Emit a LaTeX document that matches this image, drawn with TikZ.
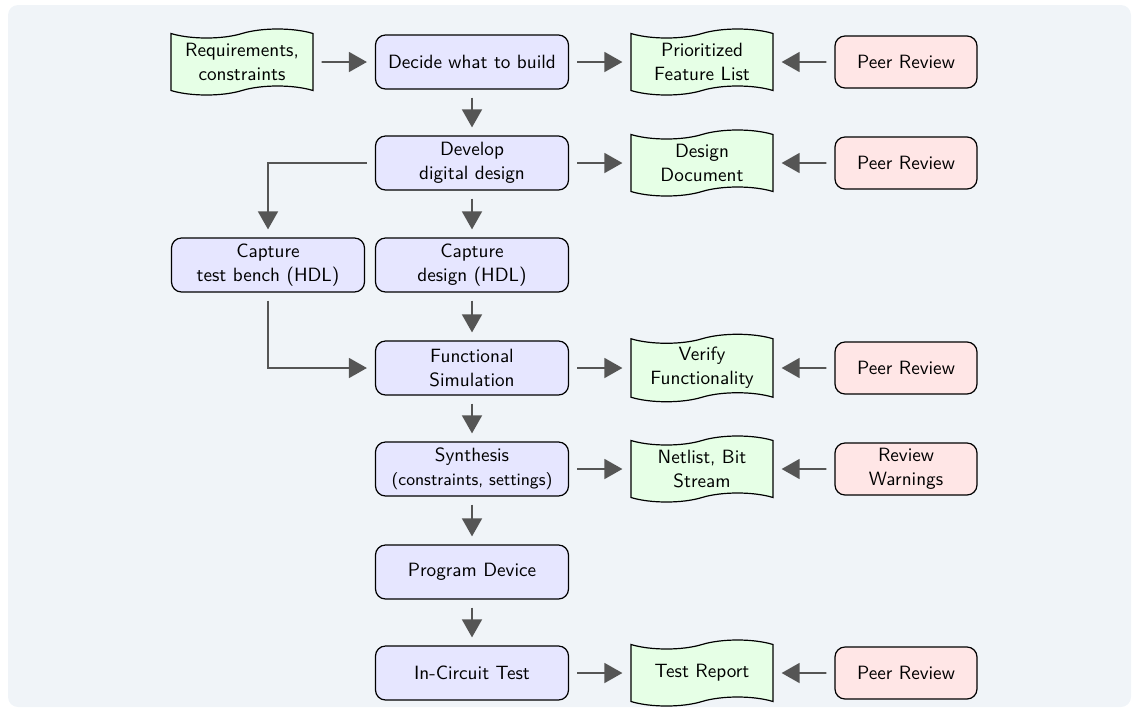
\documentclass[tikz,border=0pt]{standalone}
\usetikzlibrary{shapes.symbols,arrows.meta}
\definecolor{bgc}{HTML}{F0F4F8}
\definecolor{procfill}{HTML}{E6E6FF}
\definecolor{docfill}{HTML}{E6FFE6}
\definecolor{revfill}{HTML}{FFE6E6}
\definecolor{arrc}{HTML}{555555}
\begin{document}
\begin{tikzpicture}[x=0.5pt,y=-0.5pt,
  font=\sffamily\fontsize{9.6}{12}\selectfont,
  proc/.style={draw=black, line width=0.6pt, rounded corners=5pt, fill=procfill,
    minimum width=96.5pt, minimum height=27pt, align=center, inner sep=2pt},
  doc/.style={tape, draw=black, line width=0.6pt, fill=docfill,
    minimum width=71pt, minimum height=33pt, tape bend height=4.5pt, align=center, inner sep=2pt},
  rev/.style={draw=black, line width=0.6pt, rounded corners=5pt, fill=revfill,
    minimum width=71pt, minimum height=26pt, align=center, inner sep=2pt},
  flow/.style={draw=arrc, line width=0.8pt, -{Triangle[length=9pt,width=10pt]},
    shorten >=4pt, shorten <=4pt}
]
\useasboundingbox (0,0) rectangle (1132,709);
\fill[bgc, rounded corners=5pt] (8,5) rectangle (1131,707);

\node[doc] (req) at (242,62) {Requirements,\\constraints};
\node[proc] (decide) at (472,62) {Decide what to build};
\node[doc] (pfl) at (702,62) {Prioritized\\Feature List};
\node[rev] (pr1) at (906,62) {Peer Review};

\node[proc] (develop) at (472,163) {Develop\\digital design};
\node[doc] (dd) at (702,163) {Design\\Document};
\node[rev] (pr2) at (906,163) {Peer Review};

\node[proc] (tb) at (268,265) {Capture\\test bench (HDL)};
\node[proc] (cd) at (472,265) {Capture\\design (HDL)};

\node[proc] (fs) at (472,368) {Functional\\Simulation};
\node[doc] (vf) at (702,368) {Verify\\Functionality};
\node[rev] (pr3) at (906,368) {Peer Review};

\node[proc] (syn) at (472,469) {Synthesis\\{\fontsize{8.6}{11}\selectfont (constraints, settings)}};
\node[doc] (nb) at (702,469) {Netlist, Bit\\Stream};
\node[rev] (rw) at (906,469) {Review\\Warnings};

\node[proc] (pd) at (472,572) {Program Device};

\node[proc] (ict) at (472,673) {In-Circuit Test};
\node[doc] (tr) at (702,673) {Test Report};
\node[rev] (pr4) at (906,673) {Peer Review};

\draw[flow] (req) -- (decide);
\draw[flow] (decide) -- (pfl);
\draw[flow] (pr1) -- (pfl);
\draw[flow] (decide) -- (develop);
\draw[flow] (develop) -- (dd);
\draw[flow] (pr2) -- (dd);
\draw[flow] (develop.west) -| (tb.north);
\draw[flow] (develop) -- (cd);
\draw[flow] (tb.south) |- (fs.west);
\draw[flow] (cd) -- (fs);
\draw[flow] (fs) -- (vf);
\draw[flow] (pr3) -- (vf);
\draw[flow] (fs) -- (syn);
\draw[flow] (syn) -- (nb);
\draw[flow] (rw) -- (nb);
\draw[flow] (syn) -- (pd);
\draw[flow] (pd) -- (ict);
\draw[flow] (ict) -- (tr);
\draw[flow] (pr4) -- (tr);
\end{tikzpicture}
\end{document}
